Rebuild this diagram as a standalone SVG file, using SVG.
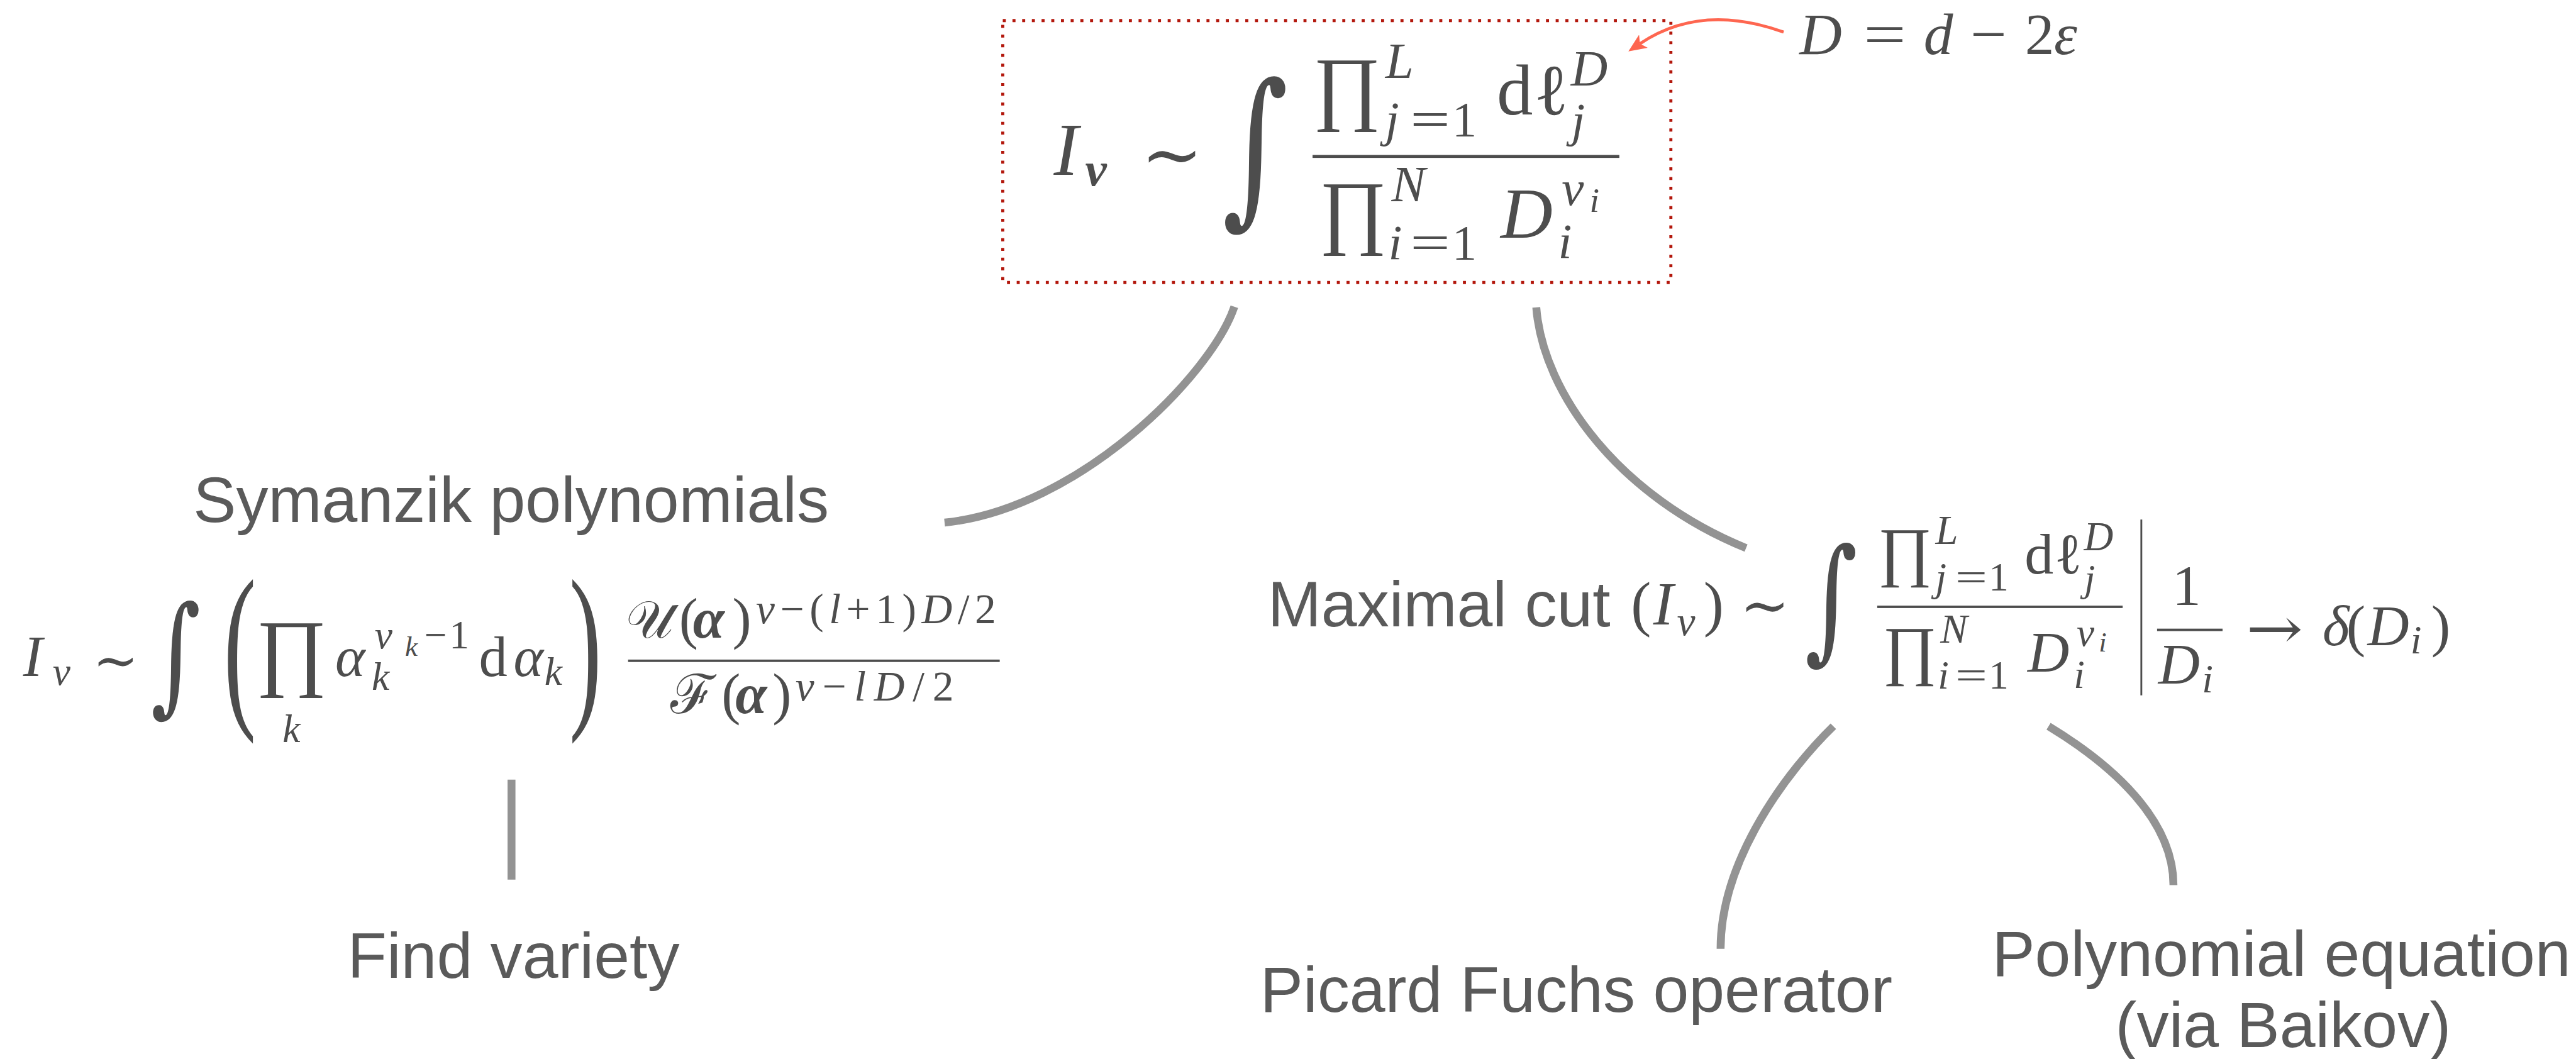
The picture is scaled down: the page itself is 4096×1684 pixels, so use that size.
<svg xmlns="http://www.w3.org/2000/svg" width="4096" height="1684" viewBox="0 0 4096 1684">
<style>
.m{font-family:"Liberation Serif","DejaVu Serif",serif;fill:#4d4d4d}
.dj{font-family:"DejaVu Serif",serif;fill:#4d4d4d}
.it{font-style:italic}
.bf{font-weight:bold}
.s{font-family:"Liberation Sans",Arial,sans-serif;font-size:106px;fill:#5a5a5a}
.bar{fill:#4d4d4d}
.conn{fill:none;stroke:#939393;stroke-width:13;stroke-linecap:butt}
.note{fill:none;stroke:#fe6650;stroke-width:5}
</style>
<defs>
<marker id="ah" markerUnits="userSpaceOnUse" markerWidth="30" markerHeight="26" viewBox="0 0 30 26" refX="7" refY="13" orient="auto"><path d="M0,0 L30,13 L0,26 L7,13 z" fill="#fe6650"/></marker>
</defs>
<rect width="4096" height="1684" fill="#ffffff"/>
<g transform="scale(0.964)">

<g id="connectors">
<path class="conn" d="M2036,506 C1997,620 1778,840 1558,862"/>
<path class="conn" d="M2534,507 C2545,650 2673,820 2880,904"/>
<path class="conn" d="M843.7,1286 V1451"/>
<path class="conn" d="M3024,1198 C2952,1268 2838,1415 2838,1565"/>
<path class="conn" d="M3379,1198 C3481,1260 3585,1350 3585,1460"/>
<path class="note" d="M2942,53 Q2806,4 2705,72" marker-end="url(#ah)"/>
</g>

<g id="node-integral">
<rect x="1654" y="34" width="1102" height="432" fill="none" stroke="#b3170c" stroke-width="5" stroke-dasharray="5 11"/>
<text class="m it" x="1738" y="288" font-size="122">I</text>
<text class="m it bf" x="1790" y="306" font-size="80">ν</text>
<text class="dj" x="1882" y="297" font-size="122">∼</text>
<text class="dj" transform="translate(2016,337) scale(0.75,1)" font-size="279">∫</text>
<rect class="bar" x="2165" y="255.5" width="506" height="5"/>
<text class="m" x="2166" y="189" font-size="136">∏</text>
<text class="m it" font-size="84"><tspan x="2285" y="129">L</tspan><tspan x="2285" y="224" font-size="82">j</tspan></text>
<text class="m" x="2326" y="224" font-size="82" textLength="66" lengthAdjust="spacingAndGlyphs">=</text>
<text class="m" x="2395" y="224" font-size="82">1</text>
<text class="m" font-size="119"><tspan x="2469" y="189">d</tspan><tspan x="2530" y="189">ℓ</tspan></text>
<text class="m it" font-size="84"><tspan x="2591" y="141">D</tspan><tspan x="2592" y="225" font-size="80">j</tspan></text>
<text class="m" x="2176" y="393" font-size="136">∏</text>
<text class="m it" font-size="84"><tspan x="2295" y="332">N</tspan><tspan x="2290" y="427" font-size="82">i</tspan></text>
<text class="m" x="2326" y="427" font-size="82" textLength="66" lengthAdjust="spacingAndGlyphs">=</text>
<text class="m" x="2395" y="427" font-size="82">1</text>
<text class="m it" x="2475" y="392" font-size="119">D</text>
<text class="m it" font-size="82"><tspan x="2576" y="338">ν</tspan><tspan x="2622" y="350" font-size="58">i</tspan><tspan x="2570" y="425">i</tspan></text>
</g>

<g id="node-dimension">
<text class="m it" x="2968" y="89" font-size="97">D</text>
<text class="m" x="3074" y="89" font-size="97" textLength="70" lengthAdjust="spacingAndGlyphs">=</text>
<text class="m it" x="3173" y="89" font-size="97">d</text>
<text class="m" x="3250" y="89" font-size="97" textLength="60" lengthAdjust="spacingAndGlyphs">−</text>
<text class="m" x="3340" y="89" font-size="97">2</text>
<text class="m it" x="3388" y="89" font-size="97">ε</text>
</g>

<g id="node-symanzik">
<text class="s" x="843" y="861" text-anchor="middle">Symanzik polynomials</text>
<text class="m it" x="38" y="1115" font-size="96">I</text>
<text class="m it" x="87" y="1130" font-size="66">ν</text>
<text class="dj" x="153" y="1120" font-size="90">∼</text>
<text class="dj" transform="translate(249,1152) scale(0.74,1)" font-size="214">∫</text>
<text class="m" transform="translate(369,1163) scale(1,1.87)" font-size="160">(</text>
<text class="m" x="422" y="1121" font-size="142">∏</text>
<text class="m it" x="466" y="1224" font-size="66">k</text>
<text class="m it" x="553" y="1115" font-size="94">α</text>
<text class="m" font-size="66"><tspan class="it" x="618" y="1070">ν</tspan><tspan class="it" x="668" y="1082" font-size="47">k</tspan><tspan x="700" y="1070">−</tspan><tspan x="741" y="1070">1</tspan><tspan class="it" x="613" y="1138">k</tspan></text>
<text class="m" x="790" y="1115" font-size="94">d</text>
<text class="m it" x="847" y="1115" font-size="94">α</text>
<text class="m it" x="898" y="1130" font-size="66">k</text>
<text class="m" transform="translate(939,1163) scale(1,1.87)" font-size="160">)</text>
<rect class="bar" x="1036" y="1088" width="613" height="4"/>
<text class="m" x="1032" y="1052" font-size="87">𝒰</text>
<text class="m" x="1120" y="1052" font-size="94">(</text>
<text class="m it bf" x="1143" y="1052" font-size="94">α</text>
<text class="m" x="1208" y="1052" font-size="94">)</text>
<text class="m" x="1247" y="1028" font-size="70" textLength="396" lengthAdjust="spacing"><tspan class="it">ν</tspan>−(<tspan class="it">l</tspan>+1)<tspan class="it">D</tspan>/2</text>
<text class="m" x="1106" y="1176" font-size="90">ℱ</text>
<text class="m" x="1190" y="1176" font-size="94">(</text>
<text class="m it bf" x="1213" y="1176" font-size="94">α</text>
<text class="m" x="1274" y="1176" font-size="94">)</text>
<text class="m" x="1312" y="1156" font-size="70" textLength="261" lengthAdjust="spacing"><tspan class="it">ν</tspan>−<tspan class="it">lD</tspan>/2</text>
</g>

<g id="node-maxcut">
<text class="s" x="2091" y="1033">Maximal cut</text>
<text class="m" x="2690" y="1030" font-size="100">(</text>
<text class="m it" x="2727" y="1030" font-size="100">I</text>
<text class="m it" x="2766" y="1048" font-size="68">ν</text>
<text class="m" x="2810" y="1030" font-size="100">)</text>
<g transform="translate(1364.4,794.6) scale(0.8)">
<text class="dj" x="1882" y="297" font-size="122">∼</text>
<text class="dj" transform="translate(2016,337) scale(0.75,1)" font-size="279">∫</text>
<rect class="bar" x="2165" y="255.5" width="506" height="5"/>
<text class="m" x="2166" y="189" font-size="136">∏</text>
<text class="m it" font-size="84"><tspan x="2285" y="129">L</tspan><tspan x="2285" y="224" font-size="82">j</tspan></text>
<text class="m" x="2326" y="224" font-size="82" textLength="66" lengthAdjust="spacingAndGlyphs">=</text>
<text class="m" x="2395" y="224" font-size="82">1</text>
<text class="m" font-size="119"><tspan x="2469" y="189">d</tspan><tspan x="2530" y="189">ℓ</tspan></text>
<text class="m it" font-size="84"><tspan x="2591" y="141">D</tspan><tspan x="2592" y="225" font-size="80">j</tspan></text>
<text class="m" x="2176" y="393" font-size="136">∏</text>
<text class="m it" font-size="84"><tspan x="2295" y="332">N</tspan><tspan x="2290" y="427" font-size="82">i</tspan></text>
<text class="m" x="2326" y="427" font-size="82" textLength="66" lengthAdjust="spacingAndGlyphs">=</text>
<text class="m" x="2395" y="427" font-size="82">1</text>
<text class="m it" x="2475" y="392" font-size="119">D</text>
<text class="m it" font-size="82"><tspan x="2576" y="338">ν</tspan><tspan x="2622" y="350" font-size="58">i</tspan><tspan x="2570" y="425">i</tspan></text>
</g>
<rect class="bar" x="3530.5" y="857" width="3" height="290"/>
<text class="m" x="3583" y="998" font-size="95">1</text>
<rect class="bar" x="3558" y="1037" width="108" height="4"/>
<text class="m it" x="3560" y="1128" font-size="95">D</text>
<text class="m it" x="3632" y="1142" font-size="66">i</text>
<text class="dj" x="3705" y="1069" font-size="95" textLength="94" lengthAdjust="spacingAndGlyphs">→</text>
<text class="m it" x="3831" y="1064" font-size="95">δ</text>
<text class="m" x="3870" y="1064" font-size="95">(</text>
<text class="m it" x="3905" y="1064" font-size="95">D</text>
<text class="m it" x="3976" y="1078" font-size="66">i</text>
<text class="m" x="4010" y="1064" font-size="95">)</text>
</g>

<g id="node-variety">
<text class="s" x="847" y="1613" text-anchor="middle">Find variety</text>
</g>
<g id="node-picard">
<text class="s" x="2600" y="1669" text-anchor="middle">Picard Fuchs operator</text>
</g>
<g id="node-baikov">
<text class="s" x="3763" y="1610" text-anchor="middle">Polynomial equation</text>
<text class="s" x="3766" y="1727" text-anchor="middle">(via Baikov)</text>
</g>

</g>
</svg>
